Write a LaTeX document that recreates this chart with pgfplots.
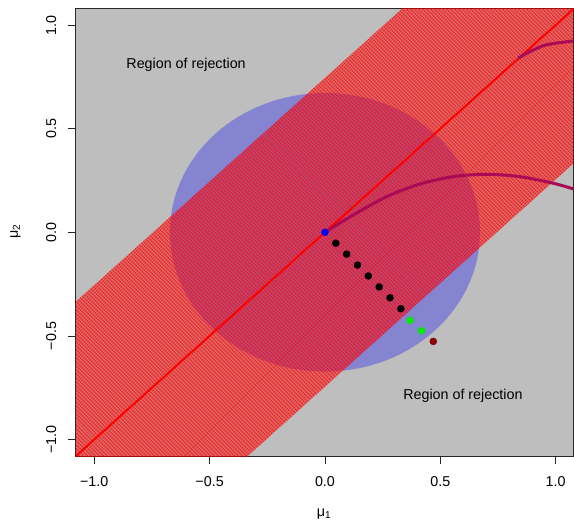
\documentclass[border=0pt]{standalone}
\usepackage{fontspec}
\setmainfont{Liberation Sans}
\usepackage{pgfplots}
\pgfplotsset{compat=1.18}
\usetikzlibrary{patterns.meta}

\definecolor{bggray}{RGB}{190,190,190}
\definecolor{curvecol}{RGB}{170,10,85}
\definecolor{ptgreen}{RGB}{0,235,0}
\definecolor{ptdarkred}{RGB}{139,0,0}

\begin{document}
\begin{tikzpicture}
\path[use as bounding box] (0,0) rectangle (574bp,520bp);
\begin{axis}[
  at={(75.8bp,63.9bp)}, anchor=south west,
  scale only axis, width=497.5bp, height=447.6bp,
  xmin=-1.08, xmax=1.0765, ymin=-1.08, ymax=1.08,
  axis background/.style={fill=bggray},
  axis line style={black!85, line width=0.8bp},
  tick align=outside, major tick length=8bp,
  tick style={black!85, line width=0.8bp},
  xtick pos=bottom, ytick pos=left,
  xtick={-1,-0.5,0,0.5,1}, ytick={-1,-0.5,0,0.5,1},
  xticklabels={−1.0,−0.5,0.0,0.5,1.0},
  yticklabels={−1.0,−0.5,0.0,0.5,1.0},
  ticklabel style={font=\fontsize{14.3bp}{17bp}\selectfont, inner sep=0pt},
  xticklabel style={anchor=base, yshift=-22.7bp},
  yticklabel style={xshift=-11.7bp, rotate=90, anchor=base},
]
% blue circle
\fill[blue, fill opacity=0.3] (axis cs:0,0) ellipse [x radius=0.672, y radius=0.672];

% hatched acceptance band
\addplot[draw=none, fill=red, fill opacity=0.38]
  coordinates {(-2,-2.745) (2,1.255) (2,2.745) (-2,-1.255)} -- cycle;
\addplot[draw=none, pattern={Lines[angle=45,distance=2.83bp,line width=1.6bp]}, pattern color=red]
  coordinates {(-2,-2.745) (2,1.255) (2,2.745) (-2,-1.255)} -- cycle;

% diagonal
\addplot[red, line width=2bp] coordinates {(-1.2,-1.2) (1.2,1.2)};

% curves
\addplot[curvecol, line width=3bp, smooth] coordinates {
  (0,0) (0.123,0.084) (0.2675,0.172) (0.412,0.233) (0.556,0.2686)
  (0.7,0.28) (0.845,0.2686) (0.99,0.2367) (1.09,0.205)
};
\addplot[curvecol, line width=3bp, smooth] coordinates {
  (0.838,0.8406) (0.889,0.872) (0.961,0.905) (1.09,0.925)
};

% points
\addplot[only marks, mark=*, mark size=3.5bp, black] coordinates {
  (0.047,-0.0527) (0.094,-0.1054) (0.141,-0.1581) (0.188,-0.2108)
  (0.235,-0.2635) (0.282,-0.3162) (0.329,-0.3689)
};
\addplot[only marks, mark=*, mark size=3.5bp, ptgreen] coordinates {
  (0.369,-0.425) (0.419,-0.475)
};
\addplot[only marks, mark=*, mark size=3.5bp, ptdarkred] coordinates {
  (0.4696,-0.5266)
};
\addplot[only marks, mark=*, mark size=3.5bp, blue] coordinates {(0,0)};

\node[font=\fontsize{14.3bp}{17bp}\selectfont] at (axis cs:-0.602,0.808) {Region of rejection};
\node[font=\fontsize{14.3bp}{17bp}\selectfont] at (axis cs:0.598,-0.789) {Region of rejection};
\end{axis}
\node[anchor=base, font=\fontsize{14.3bp}{17bp}\selectfont] at (324bp,3.5bp) {μ\textsubscript{1}};
\node[rotate=90, anchor=base, font=\fontsize{14.3bp}{17bp}\selectfont] at (17.8bp,288.3bp) {μ\textsubscript{2}};
\end{tikzpicture}
\end{document}
